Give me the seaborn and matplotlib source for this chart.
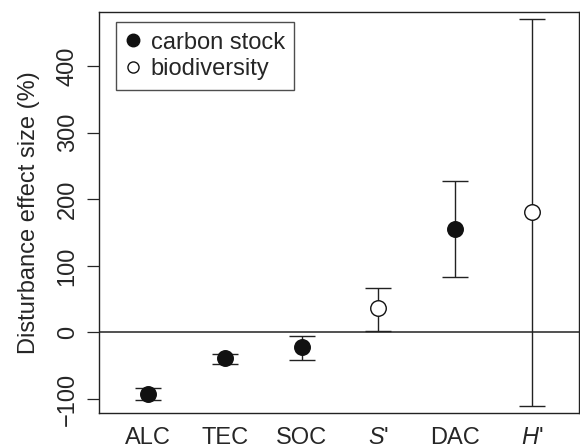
import matplotlib
matplotlib.use("Agg")
import matplotlib.pyplot as plt
import seaborn as sns
import pandas as pd
from matplotlib.lines import Line2D

# values
categories = ["ALC", "TEC", "SOC", "S'", "DAC", "H'"]
tick_labels = ["ALC", "TEC", "SOC", r"$\mathit{S}$'", "DAC", r"$\mathit{H}$'"]
effect = [-92, -38, -22, 37, 156, 181]
upper = [-84, -32, -5, 67, 227, 470]
lower = [-102, -47, -41, 2, 83, -111]
group = ["carbon stock", "carbon stock", "carbon stock", "biodiversity",
         "carbon stock", "biodiversity"]

df = pd.DataFrame({"pos": range(1, len(categories) + 1), "effect": effect,
                   "upper": upper, "lower": lower, "group": group})

sns.set_style("ticks")
plt.rcParams["font.family"] = ["Liberation Sans", "DejaVu Sans"]
plt.rcParams["mathtext.fontset"] = "custom"
plt.rcParams["mathtext.it"] = "Liberation Sans:italic"
plt.rcParams["mathtext.rm"] = "Liberation Sans"

fs = 17
fig = plt.figure(figsize=(5.8, 4.48), dpi=100)
ax = fig.add_axes([0.1707, 0.078, 0.827, 0.895])

ax.axhline(0, color="#222222", lw=1.1, zorder=1)

# error bars
ax.errorbar(df["pos"], df["effect"],
            yerr=[df["effect"] - df["lower"], df["upper"] - df["effect"]],
            fmt="none", ecolor="#222222", elinewidth=1.0, capsize=13.5 * 0.72,
            capthick=1.0, zorder=2)

carbon = df[df["group"] == "carbon stock"]
bio = df[df["group"] == "biodiversity"]
sns.scatterplot(data=carbon, x="pos", y="effect", ax=ax, s=125, color="#111111",
                edgecolor="#111111", linewidth=1.0, zorder=3, legend=False)
sns.scatterplot(data=bio, x="pos", y="effect", ax=ax, s=125, color="white",
                edgecolor="#111111", linewidth=1.0, zorder=3, legend=False)

ax.set_xlim(0.36, 6.61)
ax.set_ylim(-121, 481)
ax.set_xticks(df["pos"])
ax.set_xticklabels(tick_labels, fontsize=fs)
ax.set_yticks([-100, 0, 100, 200, 300, 400])
ax.set_yticklabels(["\u2212100", "0", "100", "200", "300", "400"], fontsize=fs,
                   rotation=90, va="center")
ax.tick_params(axis="x", length=0, pad=10)
ax.tick_params(axis="y", length=8.6, width=0.9, pad=6, direction="out")
ax.set_xlabel("")
ax.set_ylabel("Disturbance effect size (%)", fontsize=fs, labelpad=12)
for s in ax.spines.values():
    s.set_linewidth(1.0)
    s.set_color("#222222")

handles = [Line2D([], [], marker="o", ls="none", markersize=9,
                  markerfacecolor="#111111", markeredgecolor="#111111"),
           Line2D([], [], marker="o", ls="none", markersize=8,
                  markerfacecolor="white", markeredgecolor="#111111")]
leg = ax.legend(handles, ["carbon stock", "biodiversity"], loc="upper left",
                bbox_to_anchor=(0.036, 0.975), fontsize=fs, frameon=True,
                fancybox=False, edgecolor="#222222", handlelength=0.6,
                handletextpad=0.45, borderpad=0.4, labelspacing=0.2,
                borderaxespad=0)
leg.get_frame().set_linewidth(1.0)

fig.savefig("out.png", dpi=100)
